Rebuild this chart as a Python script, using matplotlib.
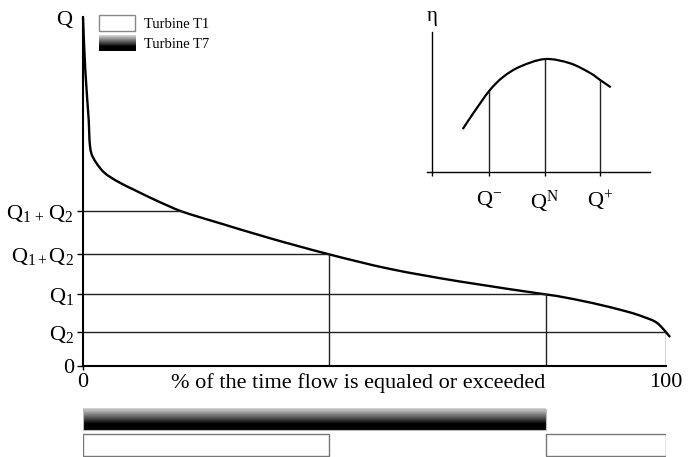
import numpy as np
import matplotlib
matplotlib.use('Agg')
import matplotlib.pyplot as plt
from matplotlib.legend_handler import HandlerBase
from matplotlib.image import BboxImage
from matplotlib.transforms import Bbox, TransformedBbox
from matplotlib.patches import Patch, PathPatch
from matplotlib.path import Path

plt.rcParams['font.family'] = 'Liberation Serif'
plt.rcParams['mathtext.fontset'] = 'custom'
plt.rcParams['mathtext.rm'] = 'Liberation Serif'
plt.rcParams['mathtext.it'] = 'Liberation Serif:italic'

# flow duration curve: % of time vs discharge
time_pct = [0, 0.39, 0.98, 1.11, 1.42, 2.28, 3.72, 6.0, 8.87, 11.7, 14.6, 16.9,
            20.1, 23.5, 32.1, 42.2, 52.7, 64.7, 79.4, 81.8, 87.5, 93.3, 96.1, 98.5, 100.7]
flow = [10.0, 8.48, 7.05, 6.48, 6.10, 5.82, 5.53, 5.28, 5.04, 4.81, 4.59, 4.43,
        4.26, 4.09, 3.66, 3.20, 2.78, 2.42, 2.05, 1.99, 1.80, 1.56, 1.41, 1.23, 0.83]

# discharge levels and where they meet the curve
level_q = [0.97, 2.05, 3.20, 4.43]
level_end = [100, 79.4, 42.2, 16.9]
level_drop = [True, True, True, False]
ytick_vals = [0] + level_q + [10]
ytick_labels = ['0', r'$\mathrm{Q}_2$', r'$\mathrm{Q}_1$',
                r'$\mathrm{Q}_{1+}\mathrm{Q}_2$', r'$\mathrm{Q}_{1\,+}\,\mathrm{Q}_2$',
                r'$\mathrm{Q}$']

# turbine operating ranges (% of time)
t7_ranges = [(0, 79.4)]
t1_ranges = [(0, 42.2), (79.4, 100)]

# efficiency curve of a turbine
eta_q = [1.41, 1.89, 2.63, 3.26, 4.04, 5.18, 6.33, 7.25, 7.71, 8.20]
eta = [3.06, 4.18, 5.79, 6.77, 7.51, 8.05, 7.75, 7.06, 6.56, 6.04]
eta_ticks = [2.63, 5.18, 7.71]
eta_at_ticks = [5.79, 8.05, 6.56]
eta_tick_labels = [r'$\mathrm{Q}^{-}$', r'$\mathrm{Q}^{\mathrm{N}}$', r'$\mathrm{Q}^{+}$']

# vertical grey-to-black shading used for T7
t = np.linspace(0, 1, 64)
shade = np.clip(0.85 * (1 - t / 0.72), 0, 1).reshape(-1, 1)


def smooth_path(x, y):
    # Catmull-Rom spline through the points, drawn as cubic Bezier segments
    pts = np.column_stack([x, y]).astype(float)
    p = np.vstack([pts[0], pts, pts[-1]])
    verts = [pts[0]]
    codes = [Path.MOVETO]
    for i in range(1, len(p) - 2):
        c1 = p[i] + (p[i + 1] - p[i - 1]) / 6
        c2 = p[i + 1] - (p[i + 2] - p[i]) / 6
        verts += [c1, c2, p[i + 1]]
        codes += [Path.CURVE4] * 3
    return Path(verts, codes)


class GradientHandler(HandlerBase):
    def create_artists(self, legend, orig_handle, xdescent, ydescent,
                       width, height, fontsize, trans):
        box = Bbox.from_bounds(-xdescent, -ydescent, width, height)
        im = BboxImage(TransformedBbox(box, trans), cmap='gray',
                       norm=plt.Normalize(0, 1), interpolation='bilinear')
        im.set_data(shade)
        return [im]


W, H = 689, 457
fig = plt.figure(figsize=(W / 100, H / 100), dpi=100)

# main flow duration plot
ax = fig.add_axes([83 / W, 1 - 366 / H, 583 / W, 349 / H])
ax.set_xlim(0, 100)
ax.set_ylim(0, 10)
for s in ['top', 'right']:
    ax.spines[s].set_visible(False)
for s in ['left', 'bottom']:
    ax.spines[s].set_linewidth(1.5)

for q, xe, drop in zip(level_q, level_end, level_drop):
    ax.plot([0, xe], [q, q], color='#222222', lw=1.0)
    if drop:
        ax.plot([xe, xe], [0, q], color='#222222', lw=1.0)
ax.add_patch(PathPatch(smooth_path(time_pct, flow), facecolor='none',
                       edgecolor='black', lw=1.7, clip_on=False))

ax.set_yticks(ytick_vals)
ax.set_yticklabels(ytick_labels)
ax.tick_params(axis='y', length=4.5, width=1, pad=2, labelsize=16)
ax.yaxis.get_major_ticks()[-1].tick1line.set_visible(False)
ax.set_xticks([0, 100])
ax.set_xticklabels(['0', '100'])
ax.tick_params(axis='x', length=3, width=1, pad=2, labelsize=16)
ax.xaxis.get_major_ticks()[-1].tick1line.set_visible(False)
ax.set_xlabel('% of the time flow is equaled or exceeded', fontsize=16)
ax.xaxis.set_label_coords(0.472, -0.02)

leg_t1 = Patch(facecolor='white', edgecolor='#888888', lw=1)
leg_t7 = Patch()
ax.legend([leg_t1, leg_t7], ['Turbine T1', 'Turbine T7'],
          handler_map={leg_t7: GradientHandler()},
          loc='upper left', bbox_to_anchor=(99 / W, 1 - 15 / H),
          bbox_transform=fig.transFigure, frameon=False, borderpad=0,
          borderaxespad=0, fontsize=10.5, handlelength=2.5, handleheight=1.3,
          labelspacing=0.3, handletextpad=0.6)

# operating range bars under the time axis
axb = fig.add_axes([83 / W, 0, 583 / W, 52 / H])
axb.axis('off')
for left, right in t7_ranges:
    axb.barh(0, right - left, left=left, height=0.85, facecolor='none',
             edgecolor='#bbbbbb', lw=0.8)
    axb.imshow(shade, cmap='gray', vmin=0, vmax=1, aspect='auto',
               extent=[left, right, 0.425, -0.425], interpolation='bilinear')
for left, right in t1_ranges:
    axb.barh(1, right - left, left=left, height=0.85, facecolor='white',
             edgecolor='#777777', lw=1)
axb.set_xlim(0, 100)
axb.set_ylim(1.475, -0.584)

# efficiency inset
axi = fig.add_axes([427 / W, 1 - 172 / H, 223 / W, 140.3 / H])
axi.set_xlim(-0.23, 10)
axi.set_ylim(0, 10)
for s in ['top', 'right']:
    axi.spines[s].set_visible(False)
axi.spines['left'].set_position(('data', 0))
axi.spines['left'].set_linewidth(1.0)
axi.spines['bottom'].set_linewidth(1.0)
axi.add_patch(PathPatch(smooth_path(eta_q, eta), facecolor='none',
                        edgecolor='black', lw=1.6))
axi.vlines(eta_ticks, 0, eta_at_ticks, color='#222222', lw=1.0)
axi.set_xticks([0] + eta_ticks)
axi.set_xticklabels([''] + eta_tick_labels)
axi.set_yticks([])
axi.tick_params(axis='x', length=3, width=1, pad=9, labelsize=16)
axi.text(0, 11.05, 'η', ha='center', va='center', fontsize=15, clip_on=False)

fig.savefig('out.png', dpi=100)
